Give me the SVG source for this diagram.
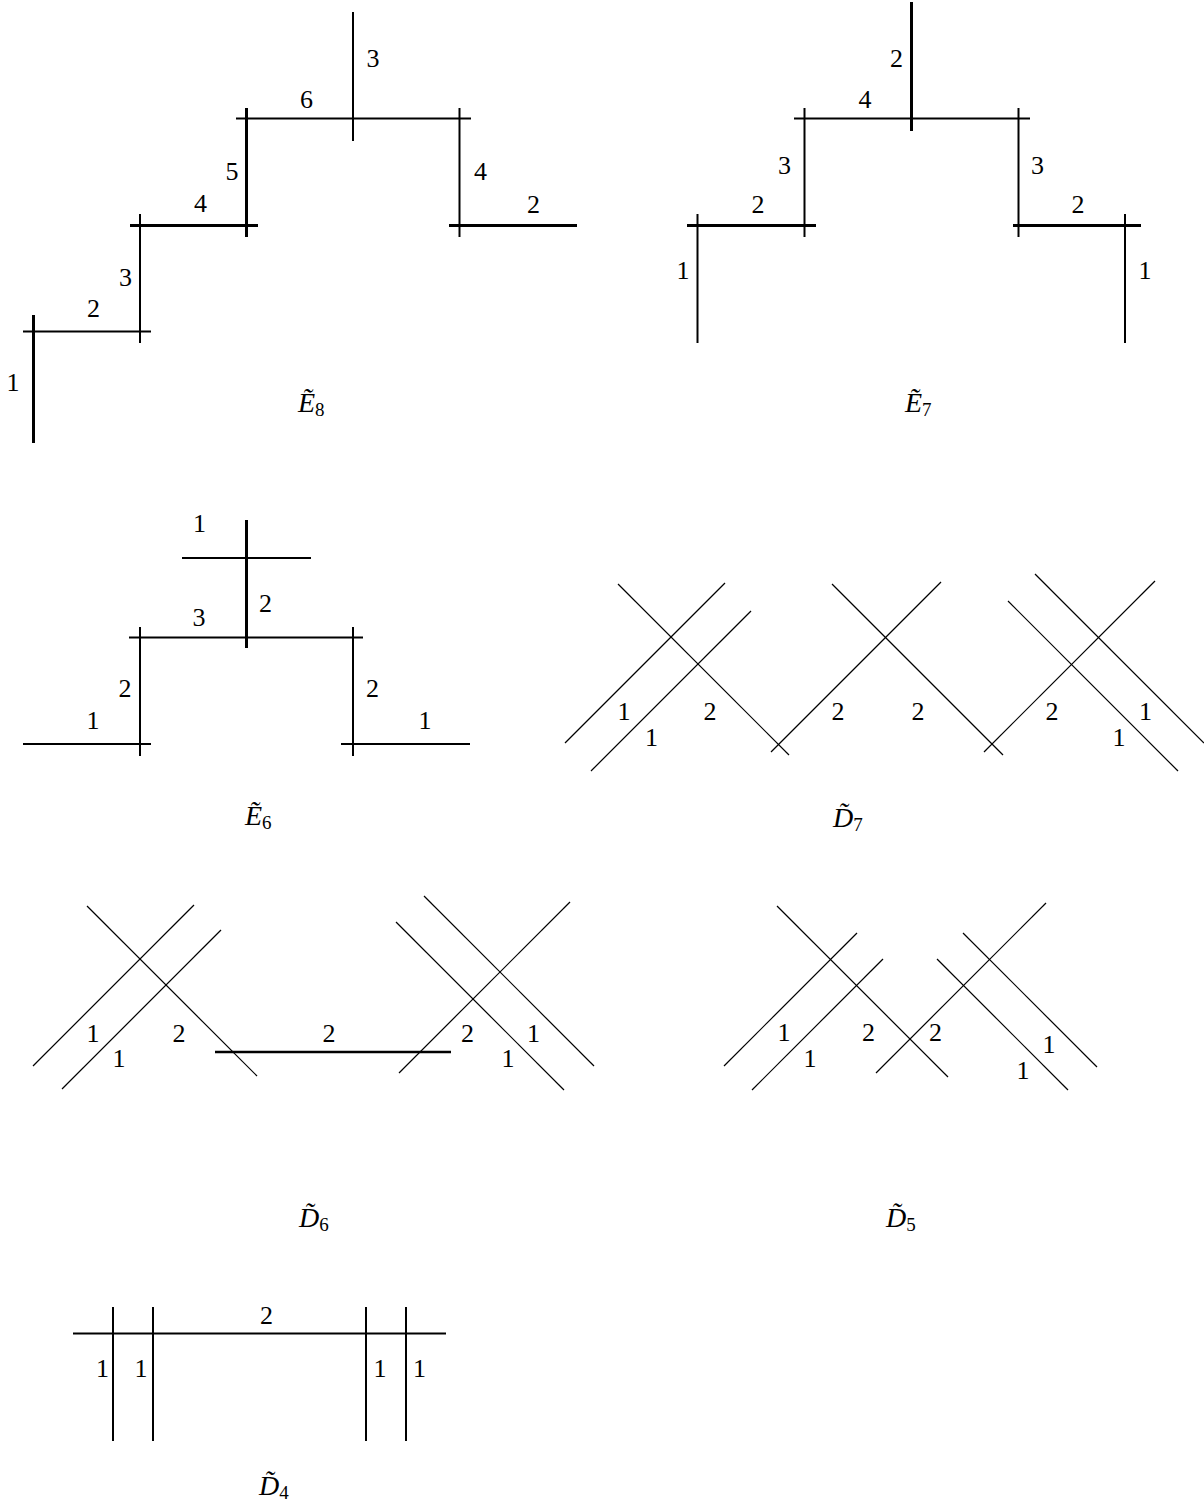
<svg xmlns="http://www.w3.org/2000/svg" width="1204" height="1505" viewBox="0 0 1204 1505">
<style>
  .bg { fill: #ffffff; }
  line { stroke: #000; stroke-linecap: butt; fill: none; }
  .thick { stroke-width: 3; }
  .thin { stroke-width: 2; }
  .diag { stroke-width: 1.2; }
  .mid { stroke-width: 2.6; }
  text { font-family: "Liberation Serif", "DejaVu Serif", serif; fill: #000; }
  .num { font-size: 26px; text-anchor: middle; }
  .name { font-size: 28px; font-style: italic; }
  .sub { font-size: 19px; font-style: normal; }
</style>
<rect class="bg" x="0" y="0" width="1204" height="1505"/>

<g id="E8">
  <g id="E8-lines">
    <line class="thick" x1="33.5" y1="315" x2="33.5" y2="443"/>
    <line class="thin" x1="23" y1="331.5" x2="151" y2="331.5"/>
    <line class="thin" x1="140" y1="214" x2="140" y2="343"/>
    <line class="thick" x1="130" y1="225.5" x2="258" y2="225.5"/>
    <line class="thick" x1="246.5" y1="108" x2="246.5" y2="237"/>
    <line class="thin" x1="236" y1="118.5" x2="471" y2="118.5"/>
    <line class="thin" x1="353" y1="12" x2="353" y2="141"/>
    <line class="thin" x1="459.5" y1="108" x2="459.5" y2="237"/>
    <line class="thick" x1="449" y1="225.5" x2="577" y2="225.5"/>
  </g>
  <text class="num" x="13" y="391">1</text>
  <text class="num" x="93.5" y="317">2</text>
  <text class="num" x="125.5" y="286">3</text>
  <text class="num" x="200.5" y="212">4</text>
  <text class="num" x="232" y="180">5</text>
  <text class="num" x="306.5" y="108">6</text>
  <text class="num" x="373" y="67">3</text>
  <text class="num" x="480.5" y="180">4</text>
  <text class="num" x="533.5" y="213">2</text>
  <text class="name" x="298" y="412">Ẽ<tspan class="sub" dy="4">8</tspan></text>
</g>

<g id="E7">
  <g id="E7-lines">
    <line class="thin" x1="697.5" y1="214" x2="697.5" y2="343"/>
    <line class="thick" x1="687" y1="225.5" x2="816" y2="225.5"/>
    <line class="thin" x1="804.5" y1="108" x2="804.5" y2="237"/>
    <line class="thin" x1="794" y1="118.5" x2="1030" y2="118.5"/>
    <line class="thick" x1="911.5" y1="2" x2="911.5" y2="131"/>
    <line class="thin" x1="1018.5" y1="108" x2="1018.5" y2="237"/>
    <line class="thick" x1="1013" y1="225.5" x2="1141" y2="225.5"/>
    <line class="thin" x1="1125" y1="214" x2="1125" y2="343"/>
  </g>
  <text class="num" x="683" y="279">1</text>
  <text class="num" x="758" y="213">2</text>
  <text class="num" x="784.5" y="174">3</text>
  <text class="num" x="865" y="108">4</text>
  <text class="num" x="896.5" y="67">2</text>
  <text class="num" x="1037.5" y="174">3</text>
  <text class="num" x="1078" y="213">2</text>
  <text class="num" x="1145" y="279">1</text>
  <text class="name" x="905" y="412">Ẽ<tspan class="sub" dy="4">7</tspan></text>
</g>

<g id="E6">
  <g id="E6-lines">
    <line class="thin" x1="182" y1="558" x2="311" y2="558"/>
    <line class="thick" x1="246.5" y1="520" x2="246.5" y2="648"/>
    <line class="thin" x1="129" y1="637.5" x2="363" y2="637.5"/>
    <line class="thin" x1="140" y1="627" x2="140" y2="756"/>
    <line class="thin" x1="23" y1="744" x2="151" y2="744"/>
    <line class="thin" x1="353" y1="627" x2="353" y2="756"/>
    <line class="thin" x1="341" y1="744" x2="470" y2="744"/>
  </g>
  <text class="num" x="199.5" y="532">1</text>
  <text class="num" x="265.5" y="612">2</text>
  <text class="num" x="199" y="626">3</text>
  <text class="num" x="125" y="697">2</text>
  <text class="num" x="93" y="729">1</text>
  <text class="num" x="372.5" y="697">2</text>
  <text class="num" x="425" y="729">1</text>
  <text class="name" x="245" y="825">Ẽ<tspan class="sub" dy="4">6</tspan></text>
</g>

<g id="D7">
  <g id="D7-lines">
    <line class="diag" x1="565" y1="743" x2="725" y2="583"/>
    <line class="diag" x1="591" y1="771" x2="751" y2="611"/>
    <line class="diag" x1="618" y1="584" x2="789" y2="755"/>
    <line class="diag" x1="771" y1="752" x2="941" y2="582"/>
    <line class="diag" x1="832" y1="584" x2="1003" y2="755"/>
    <line class="diag" x1="984" y1="752" x2="1155" y2="581"/>
    <line class="diag" x1="1035" y1="574" x2="1204" y2="743"/>
    <line class="diag" x1="1008" y1="601" x2="1178" y2="771"/>
  </g>
  <text class="num" x="624" y="720">1</text>
  <text class="num" x="651.5" y="746">1</text>
  <text class="num" x="710" y="720">2</text>
  <text class="num" x="838" y="720">2</text>
  <text class="num" x="918" y="720">2</text>
  <text class="num" x="1052" y="720">2</text>
  <text class="num" x="1145.5" y="720">1</text>
  <text class="num" x="1119" y="746">1</text>
  <text class="name" x="833" y="827">D̃<tspan class="sub" dy="4">7</tspan></text>
</g>

<g id="D6">
  <g id="D6-lines">
    <line class="diag" x1="33" y1="1066" x2="194" y2="905"/>
    <line class="diag" x1="62" y1="1089" x2="221" y2="930"/>
    <line class="diag" x1="87" y1="906" x2="257" y2="1076"/>
    <line class="mid" x1="215" y1="1052" x2="451" y2="1052"/>
    <line class="diag" x1="399" y1="1073" x2="570" y2="902"/>
    <line class="diag" x1="396" y1="922" x2="564" y2="1090"/>
    <line class="diag" x1="424" y1="896" x2="594" y2="1066"/>
  </g>
  <text class="num" x="93" y="1042">1</text>
  <text class="num" x="119" y="1067">1</text>
  <text class="num" x="179" y="1042">2</text>
  <text class="num" x="329" y="1042">2</text>
  <text class="num" x="467.5" y="1042">2</text>
  <text class="num" x="533.5" y="1042">1</text>
  <text class="num" x="508" y="1067">1</text>
  <text class="name" x="299" y="1227">D̃<tspan class="sub" dy="4">6</tspan></text>
</g>

<g id="D5">
  <g id="D5-lines">
    <line class="diag" x1="724" y1="1066" x2="857" y2="933"/>
    <line class="diag" x1="752" y1="1090" x2="883" y2="959"/>
    <line class="diag" x1="777" y1="906" x2="948" y2="1077"/>
    <line class="diag" x1="876" y1="1073" x2="1046" y2="903"/>
    <line class="diag" x1="937" y1="959" x2="1068" y2="1090"/>
    <line class="diag" x1="963" y1="933" x2="1097" y2="1067"/>
  </g>
  <text class="num" x="784" y="1041">1</text>
  <text class="num" x="810" y="1067">1</text>
  <text class="num" x="868.5" y="1041">2</text>
  <text class="num" x="935.5" y="1041">2</text>
  <text class="num" x="1049" y="1053">1</text>
  <text class="num" x="1023" y="1079">1</text>
  <text class="name" x="886" y="1227">D̃<tspan class="sub" dy="4">5</tspan></text>
</g>

<g id="D4">
  <g id="D4-lines">
    <line class="thin" x1="73" y1="1333.5" x2="446" y2="1333.5"/>
    <line class="thin" x1="113" y1="1307" x2="113" y2="1441"/>
    <line class="thin" x1="153" y1="1307" x2="153" y2="1441"/>
    <line class="thin" x1="366" y1="1307" x2="366" y2="1441"/>
    <line class="thin" x1="406" y1="1307" x2="406" y2="1441"/>
  </g>
  <text class="num" x="266.5" y="1324">2</text>
  <text class="num" x="102.5" y="1377">1</text>
  <text class="num" x="141" y="1377">1</text>
  <text class="num" x="380" y="1377">1</text>
  <text class="num" x="419.5" y="1377">1</text>
  <text class="name" x="259" y="1495">D̃<tspan class="sub" dy="4">4</tspan></text>
</g>
</svg>
